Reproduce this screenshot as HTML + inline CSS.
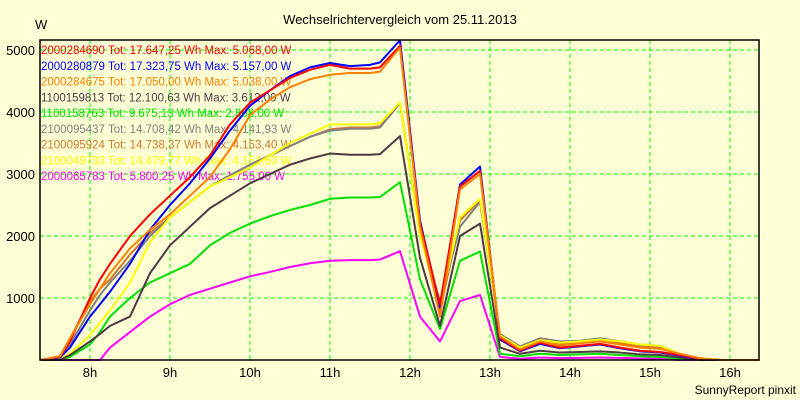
<!DOCTYPE html>
<html><head><meta charset="utf-8"><style>
body{margin:0;background:#ffffd5;}
svg{display:block;font-family:"Liberation Sans",sans-serif;}
</style></head><body>
<svg id="chart" width="800" height="400">
<rect x="0" y="0" width="800" height="400" fill="#ffffd5"/>
<text x="400" y="24" text-anchor="middle" font-size="13">Wechselrichtervergleich vom 25.11.2013</text>
<text x="35" y="29" font-size="13">W</text>
<text x="796" y="394" text-anchor="end" font-size="12">SunnyReport pinxit</text>
<g id="grid"></g><g id="legend"></g><g id="lines"></g><g id="axes"></g>
</svg>
<script>
const times=[7.375,7.625,7.75,8,8.125,8.25,8.5,8.75,9,9.25,9.5,9.75,10,10.25,10.5,10.75,11,11.25,11.5,11.625,11.875,12.125,12.375,12.625,12.875,13.125,13.375,13.625,13.875,14.125,14.375,14.625,14.875,15.125,15.375,15.625,15.875,16.375];
const red=[0,50,300,1000,1300,1550,2000,2350,2650,2950,3300,3800,4150,4350,4550,4680,4760,4700,4700,4720,5068,2200,900,2800,3050,350,150,280,200,230,260,200,150,130,80,20,0,0];
const blue=[0,40,200,700,900,1100,1550,2100,2500,2850,3250,3700,4100,4350,4580,4720,4790,4740,4760,4800,5157,2250,850,2830,3120,330,140,260,190,220,250,190,140,120,70,15,0,0];
const orange=[0,60,350,900,1150,1400,1800,2100,2350,2650,2950,3400,3950,4200,4400,4530,4600,4630,4630,4650,5038,2150,700,2750,3000,380,170,300,230,270,300,250,200,180,100,30,0,0];
const dark=[0,0,80,300,420,550,700,1400,1850,2150,2450,2650,2850,3000,3150,3250,3330,3310,3310,3320,3612,1650,550,2000,2200,200,100,150,120,130,140,120,90,80,40,0,0,0];
const green=[0,0,50,250,450,700,1000,1250,1400,1550,1850,2050,2200,2320,2420,2500,2600,2620,2620,2630,2868,1300,500,1600,1750,100,60,100,80,90,100,80,60,50,20,0,0,0];
const gray=[0,50,250,800,1050,1250,1600,2000,2300,2550,2800,2980,3150,3300,3450,3600,3700,3730,3730,3750,4142,2000,950,2150,2550,420,220,350,300,310,350,300,250,230,100,20,0,0];
const brown=[0,60,350,950,1150,1300,1700,2050,2300,2550,2800,2980,3150,3300,3450,3600,3720,3750,3750,3770,4153,2050,800,2250,2580,400,190,300,260,280,310,270,220,200,90,20,0,0];
const yellow=[0,20,100,400,600,800,1250,1900,2300,2550,2800,2950,3100,3300,3500,3650,3800,3800,3800,3820,4154,2000,900,2300,2600,400,200,320,280,300,330,300,250,230,100,20,0,0];
const magenta=[0,0,0,0,0,200,450,700,900,1050,1150,1250,1350,1420,1500,1560,1600,1610,1610,1620,1755,700,300,950,1050,50,20,40,30,35,40,35,25,20,0,0,0,0];
const legendLabels=["2000284690 Tot: 17.647,25 Wh Max: 5.068,00 W","2000280879 Tot: 17.323,75 Wh Max: 5.157,00 W","2000284675 Tot: 17.050,00 Wh Max: 5.038,00 W","1100159813 Tot: 12.100,63 Wh Max: 3.612,00 W","1100158763 Tot: 9.675,13 Wh Max: 2.868,00 W","2100095437 Tot: 14.708,42 Wh Max: 4.141,93 W","2100095924 Tot: 14.738,37 Wh Max: 4.153,40 W","2100049733 Tot: 14.479,77 Wh Max: 4.154,60 W","2000065783 Tot: 5.800,25 Wh Max: 1.755,00 W"];
const yTicks=[1000,2000,3000,4000,5000];
const xTicks=[8,9,10,11,12,13,14,15,16];
const xTickLabels=["8h","9h","10h","11h","12h","13h","14h","15h","16h"];

const NS="http://www.w3.org/2000/svg";
const L=40,R=759,T=40,B=360;
const xS=t=>90+(t-8)*80;
const yS=v=>B-v*0.062;
function mk(tag,attrs,parent){const e=document.createElementNS(NS,tag);for(const k in attrs)e.setAttribute(k,attrs[k]);parent.appendChild(e);return e;}
const grid=document.getElementById('grid'),leg=document.getElementById('legend'),lines=document.getElementById('lines'),axes=document.getElementById('axes');
yTicks.forEach(v=>{
 const g=mk('line',{x1:L,x2:R,y1:yS(v),y2:yS(v),stroke:'#00ff00','stroke-dasharray':'4,3','stroke-width':1},grid);
 
 
 const t=mk('text',{x:35,y:yS(v)+5,'text-anchor':'end','font-size':13},axes);t.textContent=v;
 
 
});
xTicks.forEach((h,i)=>{
 const g=mk('line',{x1:xS(h),x2:xS(h),y1:T,y2:B,stroke:'#00ff00','stroke-dasharray':'4,3','stroke-width':1},grid);
 
 
 const t=mk('text',{x:xS(h),y:377,'text-anchor':'middle','font-size':13},axes);t.textContent=xTickLabels[i];
 
 
});
const series=[[red,'#ff0000'],[blue,'#0000ff'],[orange,'#ff8000'],[dark,'#503848'],[green,'#00e000'],[gray,'#808080'],[brown,'#d07830'],[yellow,'#ffff00'],[magenta,'#ff00ff']];
legendLabels.forEach((s,i)=>{
 const t=mk('text',{x:41,y:54+i*15.75,'font-size':11.5,fill:series[i][1]},leg);t.textContent=s;
 
 
});
const order=[8,6,5,7,4,3,1,0,2];
order.forEach(i=>{
 const [vals,c]=series[i];
 const p=mk('polyline',{points:times.map((t,j)=>xS(t)+','+yS(vals[j])).join(' '),fill:'none',stroke:c,'stroke-width':2,'stroke-linejoin':'round'},lines);
 
 
});
const ax=mk('path',{d:`M${L},${T} H${R} V${B} H${L} Z`,fill:'none',stroke:'#000','stroke-width':1.5},axes);


</script>
</body></html>
